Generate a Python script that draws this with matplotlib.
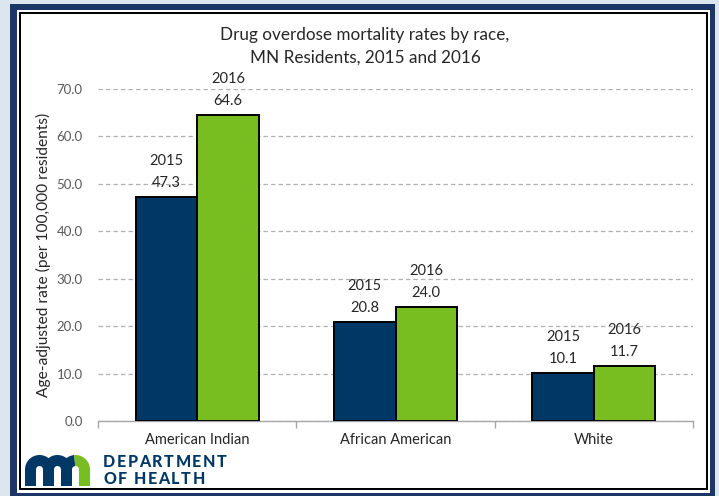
import matplotlib
matplotlib.use("Agg")
import matplotlib.pyplot as plt
from matplotlib.patches import Rectangle, Wedge

plt.rcParams['font.family'] = ['Lato', 'DejaVu Sans']

# Age-adjusted drug overdose mortality per 100,000 MN residents
races = ['American Indian', 'African American', 'White']
rate_2015 = [47.3, 20.8, 10.1]
rate_2016 = [64.6, 24.0, 11.7]
years = ['2015', '2016']

W, H = 719, 496
fig = plt.figure(figsize=(W / 100, H / 100), dpi=100)
fig.patch.set_facecolor('#dde5ee')


def px_rect(x0, y0, x1, y1, color):
    # rectangle given in pixel coords measured from the top-left corner
    r = Rectangle((x0 / W, 1 - y1 / H), (x1 - x0) / W, (y1 - y0) / H,
                  transform=fig.transFigure, facecolor=color, edgecolor='none', zorder=-10)
    fig.patches.append(r)


# framed panel
px_rect(10, 4, 715, 500, '#1c3767')
px_rect(17, 10, 710, 493, 'white')
px_rect(19, 12, 708, 490, 'black')
px_rect(21, 14, 706, 488, 'white')

navy = '#003865'
green = '#78be21'

ax = fig.add_axes([98 / W, 1 - 421 / H, (693 - 98) / W, (421 - 89) / H])
ax.set_facecolor('none')
x = range(len(races))
bw = 0.31
bars15 = ax.bar([i - bw / 2 for i in x], rate_2015, width=bw, color=navy,
                edgecolor='black', linewidth=1.4, zorder=3)
bars16 = ax.bar([i + bw / 2 for i in x], rate_2016, width=bw, color=green,
                edgecolor='black', linewidth=1.4, zorder=3)

for bars, vals, yr in [(bars15, rate_2015, years[0]), (bars16, rate_2016, years[1])]:
    for b, v in zip(bars, vals):
        cx = b.get_x() + b.get_width() / 2
        ax.annotate(f'{v:.1f}', (cx, v), xytext=(0, 14), textcoords='offset pixels',
                    ha='center', va='center', fontsize=10.5, color='#262626')
        ax.annotate(yr, (cx, v), xytext=(0, 36), textcoords='offset pixels',
                    ha='center', va='center', fontsize=10.5, color='#262626')

ax.set_xlim(-0.5, 2.5)
ax.set_ylim(0, 70)
ax.set_yticks(range(0, 71, 10))
ax.set_yticklabels([f'{v:.1f}' for v in range(0, 71, 10)])
ax.yaxis.grid(True, linestyle=(0, (3.5, 2.5)), color='#b0b0b0', linewidth=0.9)
ax.set_axisbelow(True)
ax.tick_params(axis='y', length=0, pad=11, labelsize=9.5, labelcolor='#595959')

ax.set_xticks([-0.5, 0.5, 1.5, 2.5])
ax.set_xticklabels([])
ax.tick_params(axis='x', length=5, color='#a6a6a6', width=1)
for i, name in enumerate(races):
    ax.text(i, -4, name, ha='center', va='center', fontsize=10.5, color='#262626')

for s in ['top', 'right', 'left']:
    ax.spines[s].set_visible(False)
ax.spines['bottom'].set_color('#a6a6a6')
ax.spines['bottom'].set_linewidth(1)

ax.set_ylabel('Age-adjusted rate (per 100,000 residents)', fontsize=11.2, color='#262626', labelpad=4)

fig.text(365 / W, 1 - 35 / H, 'Drug overdose mortality rates by race,', ha='center', va='center',
         fontsize=12.3, color='#262626')
fig.text(365 / W, 1 - 58 / H, 'MN Residents, 2015 and 2016', ha='center', va='center',
         fontsize=12.3, color='#262626')

# department logo: "mn" mark built from stems and arches
lg = fig.add_axes([0, 0, 1, 1], facecolor='none')
lg.set_xlim(0, W)
lg.set_ylim(H, 0)
lg.axis('off')
stem_w, gap = 11, 7
top, bot = 455, 486
r_out = stem_w + gap / 2
cy = top + r_out
lefts = [25 + k * (stem_w + gap) for k in range(4)]
for k, lx in enumerate(lefts):
    c = green if k == 3 else navy
    lg.add_patch(Rectangle((lx, cy - 0.5), stem_w, bot - cy + 0.5, facecolor=c, edgecolor='none'))
for k in range(3):
    cx = lefts[k] + r_out
    if k < 2:
        lg.add_patch(Wedge((cx, cy), r_out, 180, 360, width=stem_w, facecolor=navy, edgecolor='none'))
    else:
        lg.add_patch(Wedge((cx, cy), r_out, 180, 265, width=stem_w, facecolor=navy, edgecolor='none'))
        lg.add_patch(Wedge((cx, cy), r_out, 265, 360, width=stem_w, facecolor=green, edgecolor='none'))


def spaced(text, x0, y, step):
    # draw letters one by one with extra tracking
    fig.canvas.draw()
    rend = fig.canvas.get_renderer()
    xx = x0
    for ch in text:
        t = lg.text(xx, y, ch, ha='left', va='center', fontsize=11.5, fontweight='black', color=navy)
        w = t.get_window_extent(rend).width
        xx += w + step


spaced('DEPARTMENT', 103, 462, 1.6)
spaced('OF HEALTH', 103, 479, 1.6)

fig.savefig('out.png', dpi=100, facecolor=fig.get_facecolor())
